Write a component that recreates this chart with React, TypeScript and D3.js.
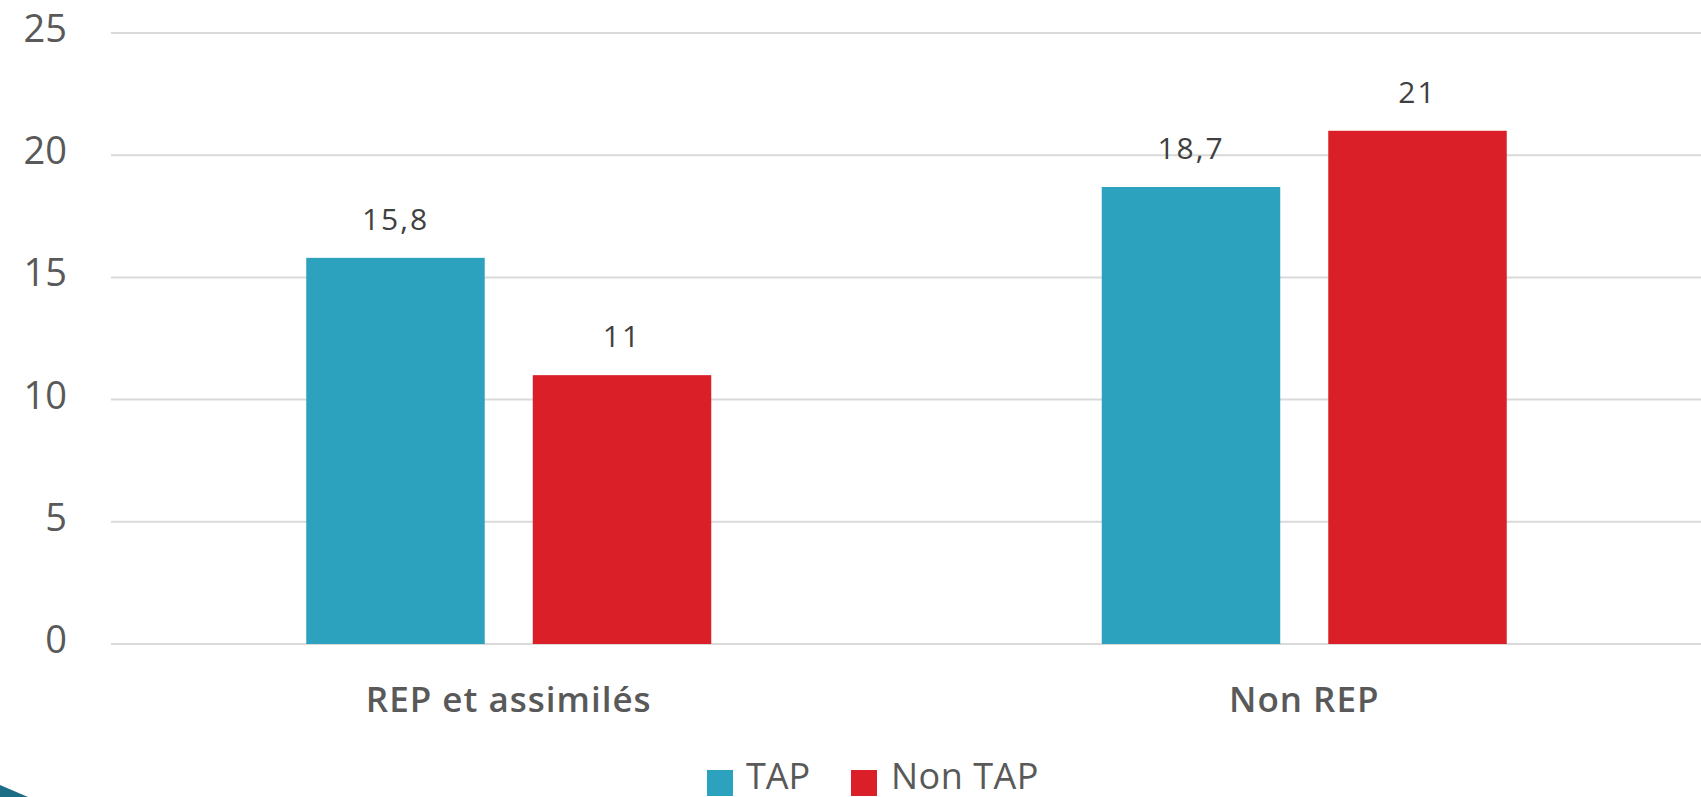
import React from "react";
import * as d3 from "d3";

// Chart data
const categories = ["REP et assimilés", "Non REP"];
const seriesNames = ["TAP", "Non TAP"];
const tapValues = [15.8, 18.7];
const nonTapValues = [11, 21];
const yTicks = [0, 5, 10, 15, 20, 25];

const seriesValues = [tapValues, nonTapValues];
const colors = ["#2CA2BF", "#DA1F29"];

const W = 1701;
const H = 797;
const FONT = "'Open Sans', 'DejaVu Sans', sans-serif";

const fmt = (v: number) => String(v).replace(".", ",");

export default function App() {
  const x0 = d3.scaleBand<string>().domain(categories).range([111, 1702]).padding(0);
  const x1 = d3
    .scaleBand<string>()
    .domain(seriesNames)
    .range([0, x0.bandwidth()])
    .paddingInner(0.212)
    .paddingOuter(0.862);
  const y = d3.scaleLinear().domain([0, 25]).range([644, 33]);

  return (
    <div style={{ position: "absolute", left: 0, top: 0, width: W, height: H, background: "#fff" }}>
      <svg width={W} height={H} style={{ display: "block" }} fontFamily={FONT}>
        {/* gridlines */}
        {yTicks.map((t) => (
          <line key={t} x1={111} x2={W} y1={y(t)} y2={y(t)} stroke="#D9D9D9" strokeWidth={2} />
        ))}
        {/* y tick labels */}
        {yTicks.map((t) => (
          <text
            key={"l" + t}
            x={67}
            y={y(t) - 6}
            textAnchor="end"
            dominantBaseline="central"
            fontSize={38}
            fill="#595959"
          >
            {t}
          </text>
        ))}
        {/* bars */}
        {categories.map((c, ci) => (
          <g key={c} transform={`translate(${x0(c)},0)`}>
            {seriesNames.map((s, si) => {
              const v = seriesValues[si][ci];
              const bx = x1(s)!;
              return (
                <g key={s}>
                  <rect x={bx} y={y(v)} width={x1.bandwidth()} height={y(0) - y(v)} fill={colors[si]} />
                  <text
                    x={bx + x1.bandwidth() / 2}
                    y={y(v) - 28}
                    textAnchor="middle"
                    fontSize={30}
                    letterSpacing={2}
                    fill="#404040"
                  >
                    {fmt(v)}
                  </text>
                </g>
              );
            })}
          </g>
        ))}
        {/* category labels */}
        {categories.map((c) => (
          <text
            key={"c" + c}
            x={x0(c)! + x0.bandwidth() / 2}
            y={712}
            textAnchor="middle"
            fontSize={35}
            fontWeight={600}
            letterSpacing={1}
            fill="#595959"
          >
            {c}
          </text>
        ))}
        {/* legend */}
        <g>
          <rect x={707} y={770} width={26} height={26} fill={colors[0]} />
          <text x={746} y={789} fontSize={36} fill="#595959">
            {seriesNames[0]}
          </text>
          <rect x={851} y={770} width={26} height={26} fill={colors[1]} />
          <text x={891} y={789} fontSize={36} letterSpacing={0.5} fill="#595959">
            {seriesNames[1]}
          </text>
        </g>
        {/* corner accent */}
        <polygon points={`0,785 28,797 0,797`} fill="#1B6E86" />
      </svg>
    </div>
  );
}
